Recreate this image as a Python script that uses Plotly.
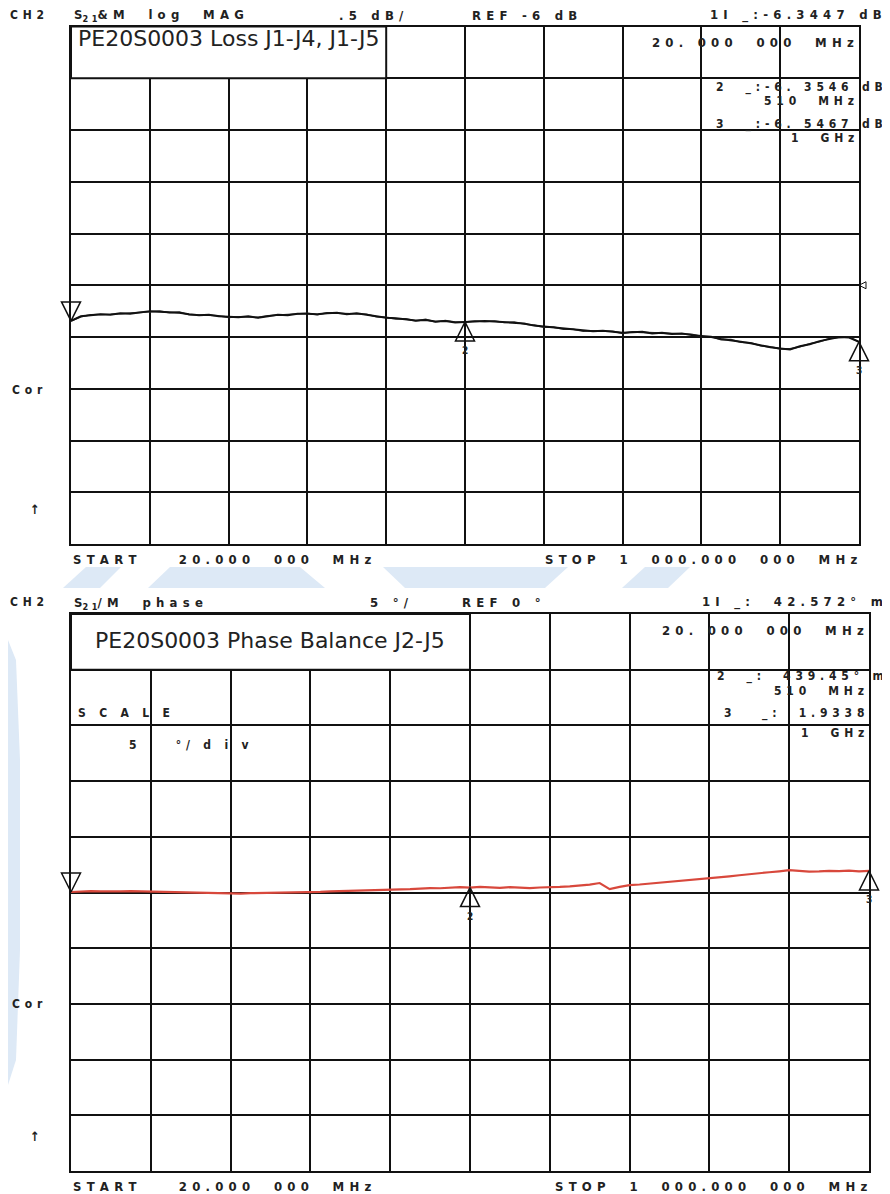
import plotly.graph_objects as go

# the page body keeps an 8 px margin, so the figure sits 8 px in from the top-left
PAGE_W, PAGE_H, OFF = 890, 1194, 8
W, H = PAGE_W - OFF, PAGE_H - OFF

# sweep points, 20 MHz -> 1 GHz
freq_mhz = [20.0, 32.25, 44.5, 56.75, 69.0, 81.25, 93.5, 105.75,
            118.0, 130.25, 142.5, 154.75, 167.0, 179.25, 191.5, 203.75,
            216.0, 228.25, 240.5, 252.75, 265.0, 277.25, 289.5, 301.75,
            314.0, 326.25, 338.5, 350.75, 363.0, 375.25, 387.5, 399.75,
            412.0, 424.25, 436.5, 448.75, 461.0, 473.25, 485.5, 497.75,
            510.0, 522.25, 534.5, 546.75, 559.0, 571.25, 583.5, 595.75,
            608.0, 620.25, 632.5, 644.75, 657.0, 669.25, 681.5, 693.75,
            706.0, 718.25, 730.5, 742.75, 755.0, 767.25, 779.5, 791.75,
            804.0, 816.25, 828.5, 840.75, 853.0, 865.25, 877.5, 889.75,
            902.0, 914.25, 926.5, 938.75, 951.0, 963.25, 975.5, 987.75,
            1000.0]

# insertion loss (dB)
loss_j1_j4 = [-6.345, -6.300, -6.290, -6.280, -6.285, -6.270, -6.275, -6.260,
              -6.250, -6.255, -6.260, -6.265, -6.280, -6.290, -6.285, -6.300,
              -6.305, -6.310, -6.300, -6.315, -6.300, -6.285, -6.290, -6.275,
              -6.275, -6.280, -6.270, -6.265, -6.280, -6.270, -6.285, -6.300,
              -6.315, -6.320, -6.330, -6.340, -6.335, -6.350, -6.345, -6.360,
              -6.355, -6.350, -6.345, -6.350, -6.355, -6.360, -6.370, -6.390,
              -6.400, -6.410, -6.420, -6.430, -6.440, -6.445, -6.440, -6.450,
              -6.460, -6.455, -6.450, -6.465, -6.460, -6.470, -6.465, -6.480,
              -6.490, -6.500, -6.520, -6.530, -6.545, -6.560, -6.580, -6.600,
              -6.610, -6.620, -6.590, -6.570, -6.540, -6.520, -6.500, -6.505,
              -6.5467]
loss_j1_j5 = [-6.345, -6.305, -6.285, -6.285, -6.280, -6.275, -6.270, -6.265,
              -6.255, -6.250, -6.265, -6.260, -6.285, -6.285, -6.290, -6.295,
              -6.310, -6.305, -6.305, -6.310, -6.295, -6.290, -6.285, -6.280,
              -6.270, -6.285, -6.265, -6.270, -6.275, -6.275, -6.280, -6.305,
              -6.310, -6.325, -6.325, -6.345, -6.330, -6.355, -6.340, -6.355,
              -6.355, -6.345, -6.350, -6.345, -6.360, -6.355, -6.375, -6.385,
              -6.405, -6.405, -6.425, -6.425, -6.445, -6.440, -6.445, -6.445,
              -6.465, -6.450, -6.455, -6.460, -6.465, -6.465, -6.470, -6.475,
              -6.495, -6.495, -6.525, -6.525, -6.550, -6.555, -6.585, -6.595,
              -6.615, -6.615, -6.595, -6.565, -6.545, -6.515, -6.505, -6.500,
              -6.5467]

# phase balance J2-J5 (deg)
phase_j2_j5 = [0.043, 0.10, 0.12, 0.10, 0.08, 0.10, 0.12, 0.10,
               0.10, 0.08, 0.05, 0.04, 0.02, 0.00, -0.02, -0.05,
               -0.08, -0.10, -0.06, -0.05, -0.02, -0.03, 0.00, 0.02,
               0.03, 0.05, 0.10, 0.12, 0.15, 0.14, 0.16, 0.18,
               0.20, 0.28, 0.30, 0.35, 0.40, 0.38, 0.45, 0.48,
               0.44, 0.50, 0.46, 0.42, 0.48, 0.44, 0.40, 0.45,
               0.45, 0.50, 0.55, 0.62, 0.70, 0.85, 0.30, 0.50,
               0.66, 0.72, 0.80, 0.88, 0.95, 1.00, 1.08, 1.16,
               1.26, 1.35, 1.45, 1.55, 1.62, 1.70, 1.82, 1.90,
               2.00, 1.95, 1.88, 1.90, 1.95, 1.92, 1.96, 1.90,
               1.934]

marker_freq = [20, 510, 1000]
marker_ids = ["1", "2", "3"]
loss_markers = [-6.3447, -6.3546, -6.5467]
phase_markers = [0.042572, 0.43945, 1.9338]

start_mhz, stop_mhz = 20, 1000
loss_ref, loss_per_div = -6, 0.5
phase_ref, phase_per_div = 0, 5


def px(x):
    return (x - OFF) / W


def py(y):
    return 1 - (y - OFF) / H


GAP = "\u00a0\u200a"


def spread(s):
    # analyser font: wide letter spacing
    return GAP.join(ch if ch != " " else "\u00a0" for ch in s)


BLACK = "#111111"
RED = "#d8483c"
HDR = dict(family="DejaVu Sans Condensed, DejaVu Sans, sans-serif", size=13, color="#222222", weight="bold")
SMALL = dict(HDR, size=12)
TITLE = dict(family="DejaVu Sans, sans-serif", size=22, color="#222222")

fig = go.Figure()

fig.add_trace(go.Scatter(x=freq_mhz, y=loss_j1_j5, mode="lines", xaxis="x", yaxis="y",
                         line=dict(color="#333333", width=1.6), showlegend=False))
fig.add_trace(go.Scatter(x=freq_mhz, y=loss_j1_j4, mode="lines", xaxis="x", yaxis="y",
                         line=dict(color=BLACK, width=2), showlegend=False))
fig.add_trace(go.Scatter(x=freq_mhz, y=phase_j2_j5, mode="lines", xaxis="x2", yaxis="y2",
                         line=dict(color=RED, width=2.2), showlegend=False))

# marker triangles: 1 points down onto the trace, 2 and 3 point up from below
symbols = ["arrow-down-open" if m == "1" else "arrow-up-open" for m in marker_ids]
for xa, ya, vals in [("x", "y", loss_markers), ("x2", "y2", phase_markers)]:
    fig.add_trace(go.Scatter(x=marker_freq, y=vals, mode="markers", xaxis=xa, yaxis=ya,
                             cliponaxis=False, showlegend=False, hoverinfo="skip",
                             marker=dict(symbol=symbols, size=19, color=BLACK,
                                         line=dict(color=BLACK, width=1.5))))

# reference level pointer right of the loss grid
fig.add_trace(go.Scatter(x=[stop_mhz], y=[loss_ref], mode="markers", xaxis="x", yaxis="y",
                         cliponaxis=False, showlegend=False, hoverinfo="skip",
                         marker=dict(symbol="arrow-left-open", size=7, color=BLACK,
                                     line=dict(color=BLACK, width=1))))

ax_common = dict(showticklabels=False, ticks="", zeroline=False, showgrid=True,
                 gridcolor=BLACK, gridwidth=1.8, showline=True, linecolor=BLACK,
                 linewidth=2, mirror=True, fixedrange=True)

fig.update_layout(
    width=W, height=H, margin=dict(l=0, r=0, t=0, b=0),
    paper_bgcolor="white", plot_bgcolor="white",
    xaxis=dict(domain=[px(71), px(859)], range=[start_mhz, stop_mhz],
               tick0=start_mhz, dtick=(stop_mhz - start_mhz) / 10, anchor="y", **ax_common),
    yaxis=dict(domain=[py(544), py(26.5)],
               range=[loss_ref - 5 * loss_per_div, loss_ref + 5 * loss_per_div],
               tick0=loss_ref, dtick=loss_per_div, anchor="x", **ax_common),
    xaxis2=dict(domain=[px(71), px(869)], range=[start_mhz, stop_mhz],
                tick0=start_mhz, dtick=(stop_mhz - start_mhz) / 10, anchor="y2", **ax_common),
    yaxis2=dict(domain=[py(1171), py(614)],
                range=[phase_ref - 5 * phase_per_div, phase_ref + 5 * phase_per_div],
                tick0=phase_ref, dtick=phase_per_div, anchor="x2", **ax_common),
)

shapes = []
annotations = []

# watermark strokes (light blue)
wm = "#dde9f6"
wm_polys = [
    [(63, 588), (86, 567), (121, 567), (100, 588)],
    [(148, 588), (170, 567), (300, 567), (325, 588)],
    [(383, 567), (568, 567), (545, 588), (405, 588)],
    [(622, 588), (645, 567), (690, 567), (668, 588)],
    [(8, 640), (16, 660), (20, 760), (20, 950), (16, 1060), (8, 1085)],
]
for poly in wm_polys:
    path = "M " + " L ".join(f"{px(x):.5f},{py(y):.5f}" for x, y in poly) + " Z"
    shapes.append(dict(type="path", xref="paper", yref="paper", path=path,
                       fillcolor=wm, line=dict(width=0), layer="below"))

# title boxes in the top grid row
shapes.append(dict(type="rect", xref="x", yref="y", x0=start_mhz, x1=start_mhz + 4 * 98,
                   y0=loss_ref + 4 * loss_per_div, y1=loss_ref + 5 * loss_per_div,
                   fillcolor="white", line=dict(color=BLACK, width=2), layer="between"))
shapes.append(dict(type="rect", xref="x2", yref="y2", x0=start_mhz, x1=start_mhz + 5 * 98,
                   y0=phase_ref + 4 * phase_per_div, y1=phase_ref + 5 * phase_per_div,
                   fillcolor="white", line=dict(color=BLACK, width=2), layer="between"))

# marker numbers under the up-pointing triangles
for xa, ya, vals in [("x", "y", loss_markers), ("x2", "y2", phase_markers)]:
    for mid, f, v in zip(marker_ids, marker_freq, vals):
        if mid != "1":
            annotations.append(dict(x=f, y=v, xref=xa, yref=ya, text=mid, showarrow=False,
                                    yshift=-29, font=dict(HDR, size=10)))


def note(x, y, text, anchor="left", font=HDR):
    annotations.append(dict(x=px(x), y=py(y), xref="paper", yref="paper", text=text,
                            showarrow=False, xanchor=anchor, yanchor="middle", font=font))


# --- top panel: log MAG ---
note(8, 15, spread("CH2"), font=SMALL)
note(72, 16, "S<sub>" + spread("21") + "</sub>" + spread("&M  log  MAG").replace("&", "&amp;"))
note(337, 15, spread(".5 dB/"))
note(470, 15, spread("REF -6 dB"))
note(884, 15, spread("1I _:-6.3447 dB"), "right")
note(229, 38, "PE20S0003 Loss J1-J4, J1-J5", "center", TITLE)
note(856, 42, spread("20. 000  000  MHz"), "right")
note(885, 87, spread("2  _:-6. 3546 dB"), "right", SMALL)
note(856, 101, spread("510  MHz"), "right", SMALL)
note(885, 124, spread("3  _:-6. 5467 dB"), "right", SMALL)
note(856, 138, spread("1  GHz"), "right", SMALL)
note(10, 390, spread("Cor"), font=SMALL)
note(28, 509, "\u2191")
note(71, 559, spread("START    20.000  000  MHz"))
note(859, 559, spread("STOP  1  000.000  000  MHz"), "right")

# --- bottom panel: phase ---
note(8, 602, spread("CH2"), font=SMALL)
note(72, 603, "S<sub>" + spread("21") + "</sub>" + spread("/M  phase"))
note(368, 602, spread("5 °/"))
note(460, 602, spread("REF 0 °"))
note(885, 602, spread("1I _:  42.572° m"), "right")
note(270, 640, "PE20S0003 Phase Balance J2-J5", "center", TITLE)
note(866, 630, spread("20. 000  000  MHz"), "right")
note(886, 676, spread("2  _:  439.45° m"), "right", SMALL)
note(866, 691, spread("510  MHz"), "right", SMALL)
note(866, 713, spread("3   _:  1.9338"), "right", SMALL)
note(866, 733, spread("1  GHz"), "right", SMALL)
note(76, 713, spread("S C A L E"), font=SMALL)
note(127, 745, spread("5    °/ d i v"), font=SMALL)
note(10, 1004, spread("Cor"), font=SMALL)
note(28, 1136, "\u2191")
note(71, 1186, spread("START    20.000  000  MHz"))
note(869, 1186, spread("STOP  1  000.000  000  MHz"), "right")

fig.update_layout(shapes=shapes, annotations=annotations)

fig.write_html("out.html")
